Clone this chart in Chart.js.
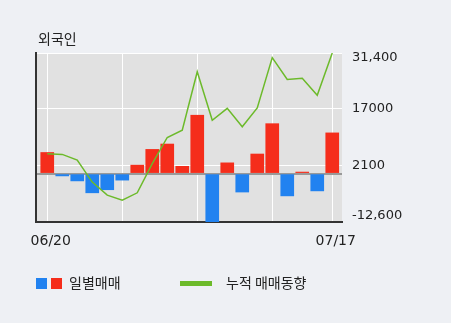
<!DOCTYPE html>
<html>
<head>
<meta charset="utf-8">
<script src="https://cdn.jsdelivr.net/npm/chart.js@4/dist/chart.umd.min.js"></script>
<style>
  html, body { margin: 0; padding: 0; background: #eef0f4; }
  #wrap { position: relative; width: 451px; height: 323px; overflow: hidden; background: #eef0f4; }
  #c { position: absolute; left: 0; top: 0; }
  .txt { position: absolute; font-family: "Noto Sans CJK KR", "DejaVu Sans", sans-serif; font-size: 14px; line-height: 14px; color: #222; white-space: nowrap; }
  .sq { position: absolute; width: 11px; height: 11px; }
</style>
</head>
<body>
<div id="wrap">
  <canvas id="c" width="451" height="323"></canvas>
  <div class="txt" id="title" style="left:38px; top:31px;">외국인</div>
  <div class="sq" style="left:36px; top:278px; background:#2182f0;"></div>
  <div class="sq" style="left:51px; top:278px; background:#f52d1b;"></div>
  <div class="txt" style="left:69px; top:275px;">일별매매</div>
  <div style="position:absolute; left:180px; top:281px; width:32px; height:5px; background:#6cba2a;"></div>
  <div class="txt" style="left:226px; top:275px;">누적 매매동향</div>
</div>
<script>
// ---- data ----
const dates = ['06/20','06/21','06/24','06/25','06/26','06/27','06/28','07/01','07/02','07/03',
               '07/04','07/05','07/08','07/09','07/10','07/11','07/12','07/15','07/16','07/17'];
const dailyNet = [5500, -600, -1900, -5000, -4200, -1700, 2200, 6300, 7700, 1900,
                  15200, -12600, 2800, -4800, 5100, 13000, -5800, 400, -4500, 10600];
const cumulative = [5200, 5000, 3500, -2200, -5600, -6900, -5000, 2600, 9400, 11300,
                    26500, 13900, 17000, 12200, 17100, 30200, 24500, 24800, 20400, 31400];
const yTickValues = [31400, 17000, 2100, -12600];
const yTickLabels = ['31,400', '17000', '2100', '-12,600'];
const xGridIndex = [0, 5, 10, 15, 19];
const xLabelIndex = [0, 19];

const plotBg = {
  id: 'plotBg',
  beforeDraw(chart) {
    const a = chart.chartArea, ctx = chart.ctx;
    ctx.save();
    ctx.fillStyle = '#e1e1e1';
    ctx.fillRect(a.left, a.top, a.right - a.left, a.bottom - a.top);
    ctx.restore();
  }
};

new Chart(document.getElementById('c'), {
  data: {
    datasets: [
      {
        type: 'line',
        label: '누적 매매동향',
        data: cumulative.map((v, i) => ({x: i, y: v})),
        borderColor: '#6cba2a',
        borderWidth: 1.5,
        pointRadius: 0,
        tension: 0,
        order: 1,
        yAxisID: 'y'
      },
      {
        type: 'bar',
        label: '일별매매',
        data: dailyNet.map((v, i) => ({x: i, y: v})),
        backgroundColor: dailyNet.map(v => v >= 0 ? '#f52d1b' : '#2182f0'),
        barThickness: 13,
        order: 2,
        yAxisID: 'y'
      }
    ]
  },
  options: {
    responsive: false,
    animation: false,
    events: [],
    layout: { padding: { left: 36, top: 53, right: 0, bottom: 0 } },
    plugins: { legend: { display: false }, tooltip: { enabled: false } },
    scales: {
      x: {
        type: 'linear',
        position: 'bottom',
        offset: false,
        min: -0.75,
        max: 19.65,
        afterBuildTicks(s) { s.ticks = xGridIndex.map(v => ({value: v})); },
        afterFit(s) { s.height = 101; },
        grid: { color: '#ffffff', lineWidth: 1, drawTicks: false, offset: false },
        border: { color: '#333333', width: 2 },
        ticks: {
          autoSkip: false,
          maxRotation: 0,
          padding: 11,
          labelOffset: 3.5,
          color: '#222',
          font: { family: 'DejaVu Sans', size: 14 },
          callback: (v) => xLabelIndex.includes(v) ? dates[v] : ''
        }
      },
      yl: {
        type: 'linear',
        position: 'left',
        afterFit(s) { s.width = 0; },
        grid: { display: false, drawTicks: false },
        border: { color: '#333333', width: 2 },
        ticks: { display: false }
      },
      y: {
        type: 'linear',
        position: 'right',
        min: -12600,
        max: 31400,
        afterBuildTicks(s) { s.ticks = [-12600, 0, 2100, 17000, 31400].map(v => ({value: v})); },
        afterFit(s) { s.width = 109; },
        grid: {
          drawTicks: false,
          color: (c) => (c.tick && c.tick.value === 0) ? '#999999' : '#ffffff',
          lineWidth: (c) => (c.tick && c.tick.value === 0) ? 2 : 1
        },
        border: { display: false },
        ticks: {
          padding: 10,
          color: '#222',
          font: (c) => {
            const v = c.tick ? c.tick.value : null;
            if (v === 31400) return { family: 'DejaVu Sans', size: 13, lineHeight: '10px' };
            if (v === -12600) return { family: 'DejaVu Sans', size: 13, lineHeight: '13px' };
            return { family: 'DejaVu Sans', size: 13 };
          },
          callback: (v) => {
            const i = yTickValues.indexOf(v);
            if (i < 0) return '';
            if (v === 31400) return ['', yTickLabels[i]];
            if (v === -12600) return [yTickLabels[i], ''];
            return yTickLabels[i];
          }
        }
      }
    }
  },
  plugins: [plotBg]
});
</script>
</body>
</html>
